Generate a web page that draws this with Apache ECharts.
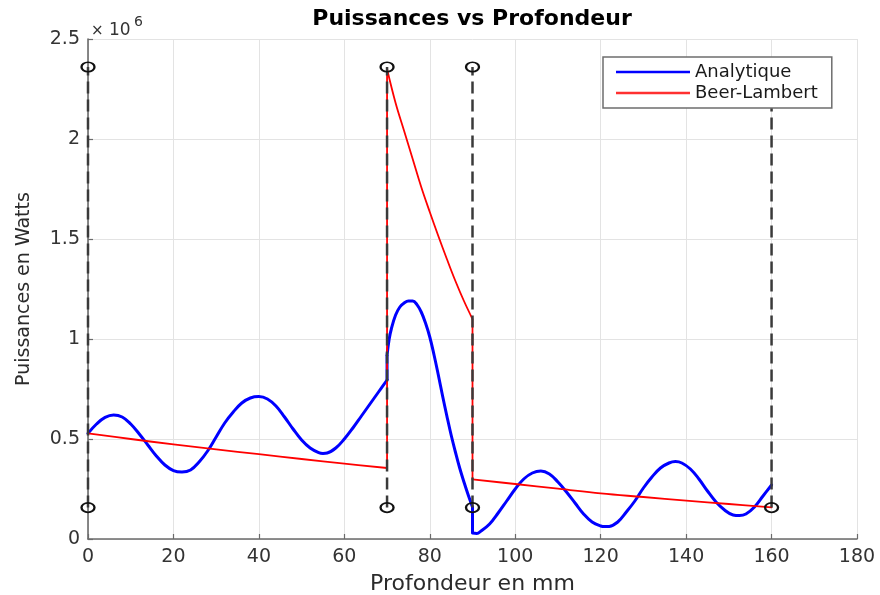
<!DOCTYPE html>
<html>
<head>
<meta charset="utf-8">
<script src="https://cdn.jsdelivr.net/npm/echarts@6/dist/echarts.min.js"></script>
<style>
html,body{margin:0;padding:0;background:#fff;}
#chart{width:880px;height:595px;}
</style>
</head>
<body>
<div id="chart"></div>
<script>
// ---- Texts ----
const chartTitle = 'Puissances vs Profondeur';
const xAxisName = 'Profondeur en mm';
const yAxisName = 'Puissances en Watts';
const expTimes = '×';
const expBase = '10';
const expPower = '6';
const seriesNames = ['Analytique', 'Beer-Lambert'];

// ---- Axis ticks ----
const xTicks = [0, 20, 40, 60, 80, 100, 120, 140, 160, 180];
const yTicks = [0, 0.5, 1, 1.5, 2, 2.5]; // in 10^6 W

// ---- Analytique (values in 10^6 W) ----
const analytiqueX = [
  0, 2, 4, 6, 8, 10, 12, 14, 16, 18, 20, 22, 24, 26, 28, 30, 32, 34, 36, 38, 40,
  42, 44, 46, 48, 50, 52, 54, 55, 56, 58, 60, 62, 64, 66, 68, 70,
  70, 70.5, 71, 72, 73, 74, 75, 76, 77, 78, 79, 80, 81, 82, 83, 84, 85, 86, 87, 88, 89, 90,
  90, 91, 92, 94, 96, 98, 100, 102, 104, 106, 108, 110, 112, 114, 116, 118, 120, 121, 122,
  124, 126, 128, 130, 132, 134, 136, 137.5, 139, 141, 143, 145, 147, 149, 151, 152.5, 154,
  156, 158, 160
];
const analytiqueY = [
  0.528, 0.575, 0.608, 0.620, 0.610, 0.575, 0.525, 0.470, 0.415, 0.370, 0.342, 0.335, 0.345,
  0.385, 0.440, 0.510, 0.580, 0.635, 0.680, 0.705, 0.712,
  0.700, 0.665, 0.610, 0.550, 0.495, 0.455, 0.432, 0.428, 0.430, 0.455, 0.500, 0.555, 0.615,
  0.675, 0.735, 0.795,
  0.920, 1.000, 1.050, 1.120, 1.160, 1.180, 1.190, 1.190, 1.172, 1.135, 1.080, 1.010, 0.920,
  0.820, 0.715, 0.615, 0.520, 0.435, 0.355, 0.285, 0.220, 0.160,
  0.030, 0.028, 0.040, 0.075, 0.130, 0.190, 0.250, 0.300, 0.330, 0.340, 0.325, 0.285, 0.235,
  0.180, 0.125, 0.085, 0.065, 0.062, 0.063,
  0.085, 0.135, 0.190, 0.255, 0.310, 0.355, 0.380, 0.387, 0.380, 0.350, 0.300, 0.240, 0.185,
  0.145, 0.120, 0.117, 0.125,
  0.160, 0.215, 0.270
];

// ---- Beer-Lambert (values in 10^6 W) ----
const beerX = [
  0, 10, 20, 30, 40, 50, 60, 70,
  70, 72, 74, 76, 78, 80, 82, 84, 86, 88, 90,
  90, 100, 110, 120, 130, 140, 150, 160
];
const beerY = [
  0.528, 0.500, 0.473, 0.448, 0.424, 0.400, 0.377, 0.355,
  2.350, 2.180, 2.040, 1.900, 1.760, 1.635, 1.515, 1.400, 1.290, 1.190, 1.100,
  0.298, 0.275, 0.252, 0.228, 0.210, 0.192, 0.175, 0.158
];

// ---- Layer boundaries (dashed lines with circles) ----
const boundaryX = [0, 70, 90, 160];
const boundaryBottom = 0.157;
const boundaryTop = 2.36;

// split a polyline into continuous pieces + vertical jumps (same x twice)
function splitCurve(xs, ys) {
  const pieces = [[]];
  const jumps = [];
  for (let i = 0; i < xs.length; i++) {
    if (i > 0 && xs[i] === xs[i - 1]) {
      jumps.push([[xs[i - 1], ys[i - 1]], [xs[i], ys[i]]]);
      pieces.push([]);
    }
    pieces[pieces.length - 1].push([xs[i], ys[i]]);
  }
  return { pieces, jumps };
}

const FONT = 'DejaVu Sans';
const axisGray = '#6b6b6b';
const textGray = '#2b2b2b';

function curveSeries(name, xs, ys, color, width, z) {
  const { pieces, jumps } = splitCurve(xs, ys);
  const out = [];
  pieces.forEach(p => out.push({
    name, type: 'line', data: p, symbol: 'none', silent: true, smooth: 0.4,
    lineStyle: { color, width, cap: 'round', join: 'round' },
    itemStyle: { color }, z
  }));
  jumps.forEach(j => out.push({
    name, type: 'line', data: j, symbol: 'none', silent: true,
    lineStyle: { color, width, cap: 'butt' },
    itemStyle: { color }, z
  }));
  return out;
}

const boundarySeries = boundaryX.map(x => ({
  name: 'limite',
  type: 'line',
  data: [[x, boundaryBottom], [x, boundaryTop]],
  symbol: 'circle',
  symbolSize: [13, 9.5],
  showSymbol: true,
  silent: true,
  itemStyle: { color: 'rgba(0,0,0,0)', borderColor: '#111', borderWidth: 2 },
  lineStyle: { color: '#3a3a3a', width: 2.5, type: [12, 6] },
  z: 4
}));

const chart = echarts.init(document.getElementById('chart'), null, { renderer: 'canvas' });
chart.setOption({
  animation: false,
  backgroundColor: '#fff',
  title: {
    text: chartTitle,
    left: 472,
    top: 8,
    padding: 0,
    textAlign: 'center',
    textStyle: { fontFamily: FONT, fontSize: 22, fontWeight: 'bold', color: '#000' }
  },
  grid: { left: 88, right: 23, top: 39, bottom: 56, containLabel: false, outerBoundsMode: 'none' },
  legend: {
    data: [
      { name: seriesNames[0], icon: 'rect', itemStyle: { color: '#0000ff' } },
      { name: seriesNames[1], icon: 'rect', itemStyle: { color: '#ff3030' } }
    ],
    orient: 'vertical',
    left: 603,
    top: 57,
    z: 20,
    itemWidth: 74,
    itemHeight: 2.5,
    itemGap: 3,
    padding: [6, 14, 6, 13],
    backgroundColor: '#fff',
    borderColor: '#6e6e6e',
    borderWidth: 1.5,
    borderRadius: 0,
    textStyle: { fontFamily: FONT, fontSize: 18, color: '#1a1a1a' },
    selectedMode: false
  },
  xAxis: {
    type: 'value',
    min: xTicks[0],
    max: xTicks[xTicks.length - 1],
    interval: xTicks[1] - xTicks[0],
    name: xAxisName,
    nameLocation: 'middle',
    nameGap: 34,
    nameTextStyle: { fontFamily: FONT, fontSize: 22, color: textGray },
    axisLine: { show: true, onZero: false, lineStyle: { color: axisGray, width: 1.6 } },
    axisTick: { show: true, inside: true, length: 5, lineStyle: { color: axisGray, width: 1.2 } },
    axisLabel: { fontFamily: FONT, fontSize: 19, margin: 9, color: '#333' },
    splitLine: { show: true, lineStyle: { color: '#e3e3e3', width: 1 } }
  },
  yAxis: {
    type: 'value',
    min: yTicks[0],
    max: yTicks[yTicks.length - 1],
    interval: yTicks[1] - yTicks[0],
    name: yAxisName,
    nameLocation: 'middle',
    nameGap: 54,
    nameTextStyle: { fontFamily: FONT, fontSize: 19, color: textGray },
    axisLine: { show: true, onZero: false, lineStyle: { color: axisGray, width: 1.6 } },
    axisTick: { show: true, inside: true, length: 5, lineStyle: { color: axisGray, width: 1.2 } },
    axisLabel: { fontFamily: FONT, fontSize: 19, margin: 8, color: '#333' },
    splitLine: { show: true, lineStyle: { color: '#e3e3e3', width: 1 } }
  },
  graphic: [
    { type: 'text', left: 91, top: 24, silent: true,
      style: { text: expTimes, fontFamily: FONT, fontSize: 15, fill: '#333' } },
    { type: 'text', left: 109, top: 22, silent: true,
      style: { text: expBase, fontFamily: FONT, fontSize: 17, fill: '#333' } },
    { type: 'text', left: 134, top: 15, silent: true,
      style: { text: expPower, fontFamily: FONT, fontSize: 14, fill: '#333' } }
  ],
  series: [
    ...curveSeries(seriesNames[0], analytiqueX, analytiqueY, '#0000ff', 3, 2),
    ...curveSeries(seriesNames[1], beerX, beerY, '#ff0000', 1.8, 3),
    ...boundarySeries
  ]
});
</script>
</body>
</html>
